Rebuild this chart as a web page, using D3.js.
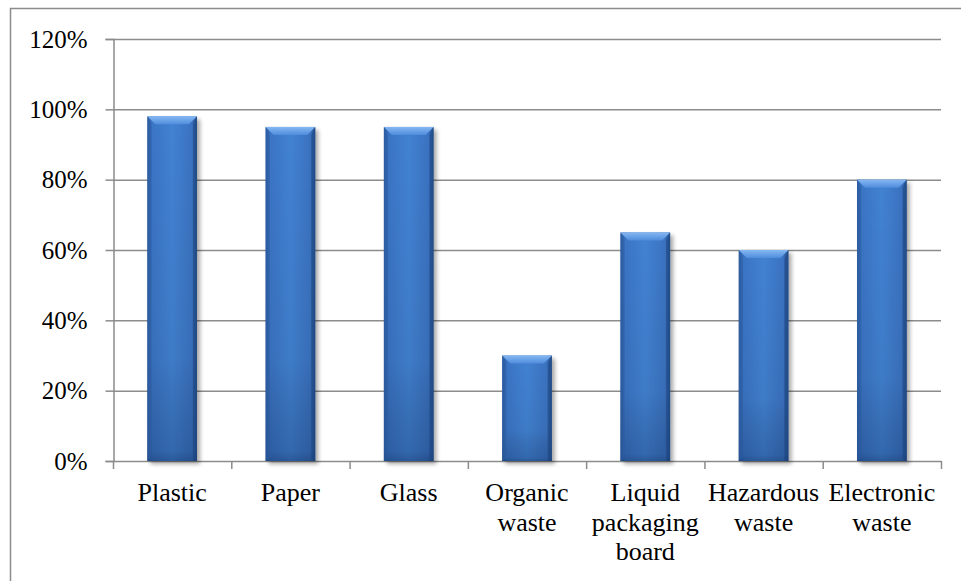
<!DOCTYPE html>
<html>
<head>
<meta charset="utf-8">
<script src="https://cdn.jsdelivr.net/npm/d3@7/dist/d3.min.js"></script>
<style>
  html, body { margin: 0; padding: 0; background: #fff; }
  svg { display: block; }
  svg text { font-family: "Liberation Serif", "Times New Roman", serif !important; fill: #000; }
</style>
</head>
<body>
<svg id="chart" width="961" height="581"></svg>
<script>
// Share of each waste fraction, in percent
const categories = [
  ["Plastic"],
  ["Paper"],
  ["Glass"],
  ["Organic", "waste"],
  ["Liquid", "packaging", "board"],
  ["Hazardous", "waste"],
  ["Electronic", "waste"]
];
const shares = [98, 95, 95, 30, 65, 60, 80];
const yTicks = [0, 20, 40, 60, 80, 100, 120];

const W = 961, H = 581;
const plot = { left: 113, right: 941, top: 39, bottom: 461 };
const FONT = "'Liberation Serif', 'Times New Roman', serif";

const svg = d3.select("#chart");

// Outer chart frame (runs off the right and bottom edges)
svg.append("rect")
  .attr("x", 10.5).attr("y", 8.5)
  .attr("width", W).attr("height", H)
  .attr("fill", "none").attr("stroke", "#8c8c8c").attr("stroke-width", 1.5);

const x = d3.scaleBand()
  .domain(d3.range(categories.length))
  .range([plot.left, plot.right])
  .paddingInner(0.58).paddingOuter(0.29);

const xOuter = d3.scaleBand()
  .domain(d3.range(categories.length))
  .range([plot.left, plot.right]);

const y = d3.scaleLinear().domain([0, 120]).range([plot.bottom, plot.top]);

const defs = svg.append("defs");

// Horizontal shading across the bar face
const gH = defs.append("linearGradient").attr("id", "barFace").attr("x1", 0).attr("x2", 1).attr("y1", 0).attr("y2", 0);
[[0, "#2b5a9c"], [0.1, "#3a74c4"], [0.5, "#4282d2"], [0.9, "#3a72c0"], [1, "#244f8c"]]
  .forEach(([o, c]) => gH.append("stop").attr("offset", o).attr("stop-color", c));

// Vertical darkening toward the base
const gV = defs.append("linearGradient").attr("id", "barShade").attr("x1", 0).attr("x2", 0).attr("y1", 0).attr("y2", 1);
[[0, "#000", 0], [0.7, "#000", 0.05], [0.97, "#001030", 0.22], [1, "#001030", 0.35]]
  .forEach(([o, c, a]) => gV.append("stop").attr("offset", o).attr("stop-color", c).attr("stop-opacity", a));

// Top bevel highlight
const gT = defs.append("linearGradient").attr("id", "barTop").attr("x1", 0).attr("x2", 0).attr("y1", 0).attr("y2", 1);
[[0, "#86b8f2"], [0.5, "#6aa2e8"], [1, "#4f8cdb"]]
  .forEach(([o, c]) => gT.append("stop").attr("offset", o).attr("stop-color", c));

const shadow = defs.append("filter").attr("id", "shadow")
  .attr("x", "-30%").attr("y", "-10%").attr("width", "160%").attr("height", "130%");
shadow.append("feGaussianBlur").attr("in", "SourceAlpha").attr("stdDeviation", 2.2).attr("result", "b");
shadow.append("feOffset").attr("in", "b").attr("dx", 2.5).attr("dy", 2.5).attr("result", "o");
shadow.append("feComponentTransfer").attr("in", "o").attr("result", "s")
  .append("feFuncA").attr("type", "linear").attr("slope", 0.35);
const merge = shadow.append("feMerge");
merge.append("feMergeNode").attr("in", "s");
merge.append("feMergeNode").attr("in", "SourceGraphic");

// Gridlines
svg.append("g")
  .selectAll("line")
  .data(yTicks.filter(t => t > 0))
  .join("line")
  .attr("x1", plot.left).attr("x2", plot.right)
  .attr("y1", d => y(d) + 0.5).attr("y2", d => y(d) + 0.5)
  .attr("stroke", "#8c8c8c").attr("stroke-width", 1.5);

// Y axis
const yAxis = svg.append("g")
  .attr("transform", `translate(${plot.left + 0.5},0)`)
  .call(d3.axisLeft(y).tickValues(yTicks).tickSize(8).tickPadding(18).tickFormat(d => d + "%"));
yAxis.attr("font-family", null).attr("font-size", null);
yAxis.select(".domain").attr("stroke", "#8c8c8c").attr("stroke-width", 1.5);
yAxis.selectAll(".tick line").attr("stroke", "#8c8c8c").attr("stroke-width", 1.5);
yAxis.selectAll(".tick text")
  .style("font-family", FONT).style("font-size", "25px").attr("fill", "#000");

// X axis line with ticks at category boundaries
const bottom = svg.append("g");
bottom.append("line")
  .attr("x1", plot.left).attr("x2", plot.right)
  .attr("y1", plot.bottom + 0.5).attr("y2", plot.bottom + 0.5)
  .attr("stroke", "#8c8c8c").attr("stroke-width", 1.5);
bottom.selectAll("line.tick")
  .data(d3.range(categories.length + 1))
  .join("line").attr("class", "tick")
  .attr("x1", i => i < categories.length ? xOuter(i) + 0.5 : plot.right + 0.5)
  .attr("x2", i => i < categories.length ? xOuter(i) + 0.5 : plot.right + 0.5)
  .attr("y1", plot.bottom).attr("y2", plot.bottom + 8)
  .attr("stroke", "#8c8c8c").attr("stroke-width", 1.5);

// Bars
const bars = svg.append("g").selectAll("g.bar")
  .data(shares)
  .join("g").attr("class", "bar");

const bev = 8;
bars.append("rect")
  .attr("x", (d, i) => x(i)).attr("y", d => y(d))
  .attr("width", x.bandwidth()).attr("height", d => y(0) - y(d))
  .attr("fill", "url(#barFace)")
  .attr("filter", "url(#shadow)");
bars.append("rect")
  .attr("x", (d, i) => x(i)).attr("y", d => y(d))
  .attr("width", x.bandwidth()).attr("height", d => y(0) - y(d))
  .attr("fill", "url(#barShade)");
bars.append("path")
  .attr("d", (d, i) => {
    const x0 = x(i), x1 = x(i) + x.bandwidth(), t = y(d);
    return `M${x0},${t}L${x1},${t}L${x1 - bev},${t + bev}L${x0 + bev},${t + bev}Z`;
  })
  .attr("fill", "url(#barTop)");
bars.append("path")
  .attr("d", (d, i) => {
    const x0 = x(i), t = y(d), b = y(0);
    return `M${x0},${t}L${x0 + 4},${t + bev}L${x0 + 4},${b - 2}L${x0},${b}Z`;
  })
  .attr("fill", "#2d5fa5").attr("opacity", 0.55);
bars.append("path")
  .attr("d", (d, i) => {
    const x1 = x(i) + x.bandwidth(), t = y(d), b = y(0);
    return `M${x1},${t}L${x1 - 4},${t + bev}L${x1 - 4},${b - 2}L${x1},${b}Z`;
  })
  .attr("fill", "#1f4a86").attr("opacity", 0.6);

// Category labels
const labels = svg.append("g").selectAll("text")
  .data(categories)
  .join("text")
  .attr("text-anchor", "middle")
  .style("font-family", FONT).style("font-size", "26px")
  .attr("x", (d, i) => xOuter(i) + xOuter.bandwidth() / 2)
  .attr("y", 501);
labels.selectAll("tspan")
  .data(d => d)
  .join("tspan")
  .attr("x", function () { return this.parentNode.getAttribute("x"); })
  .attr("dy", (d, j) => j === 0 ? 0 : 29.5)
  .text(d => d);
</script>
</body>
</html>
